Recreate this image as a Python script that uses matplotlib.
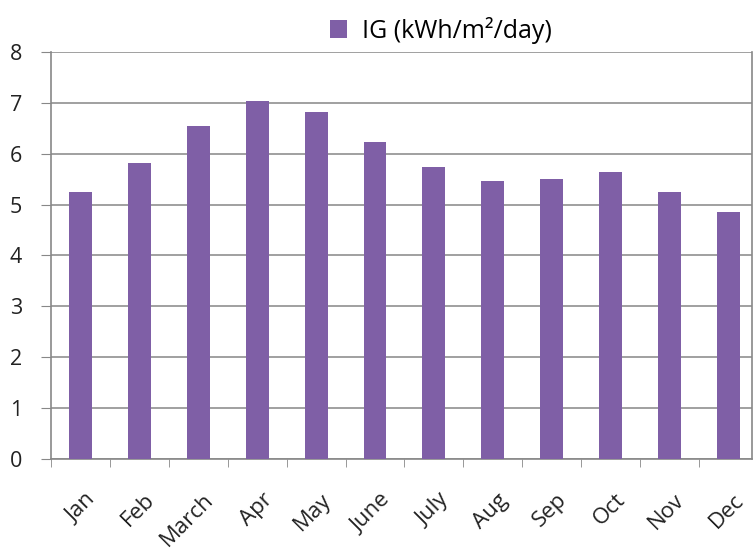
import numpy as np
import matplotlib
matplotlib.use('Agg')
import matplotlib.pyplot as plt
from matplotlib.ticker import FixedLocator

# monthly global irradiation
months = ['Jan', 'Feb', 'March', 'Apr', 'May', 'June', 'July', 'Aug', 'Sep', 'Oct', 'Nov', 'Dec']
ig = [5.25, 5.82, 6.54, 7.03, 6.82, 6.23, 5.74, 5.46, 5.50, 5.64, 5.25, 4.85]

plt.rcParams['font.family'] = ['Open Sans', 'DejaVu Sans']

fig = plt.figure(figsize=(7.54, 5.59), dpi=100)
ax = fig.add_axes([0.068, 0.179, 0.929, 0.728])

x = np.arange(len(months))
ax.bar(x, ig, width=0.39, color='#7f5fa6', label='IG (kWh/m²/day)', zorder=3)

ax.set_ylim(0, 8)
ax.set_xlim(-0.5, 11.4)
ax.set_yticks(range(0, 9))
ax.tick_params(axis='y', labelsize=15.5, length=7, color='#888888', direction='out',
               pad=14, labelcolor='#222222')
ax.yaxis.grid(True, color='#999999', linewidth=1.3, zorder=0)

ax.set_xticks(x + 0.08)
ax.set_xticklabels(months, rotation=45, ha='right', rotation_mode='anchor', fontsize=16,
                   color='#222222')
ax.tick_params(axis='x', which='major', length=0, pad=22)
ax.xaxis.set_minor_locator(FixedLocator(np.arange(-0.5, 12, 1)))
ax.tick_params(axis='x', which='minor', length=6, color='#888888', direction='out')

ax.spines['top'].set_visible(False)
for s in ['left', 'bottom', 'right']:
    ax.spines[s].set_color('#888888')
    ax.spines[s].set_linewidth(1.2)

fig.legend(loc='upper center', bbox_to_anchor=(0.585, 1.01), frameon=False,
           fontsize=18, handlelength=0.7, handleheight=0.7, handletextpad=0.6)

plt.savefig('out.png')
